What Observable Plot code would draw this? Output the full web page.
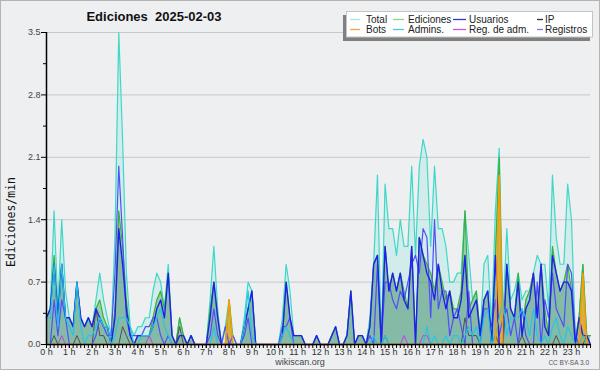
<!DOCTYPE html>
<html><head><meta charset="utf-8">
<script src="https://cdn.jsdelivr.net/npm/d3@7"></script>
<script src="https://cdn.jsdelivr.net/npm/@observablehq/plot@0.6"></script>
<style>
html,body{margin:0;padding:0;background:#eeeff1}
#wrap{position:relative;width:600px;height:370px;background:#eeeff1;overflow:hidden}
#wrap svg{position:absolute;left:0;top:0}
</style></head><body><div id="wrap"></div>
<script>
// 10-minute buckets, 0:00 .. 23:50 (values in edits/min)
const total = [
0.3,0.4,1.5,0.4,1.4,0.6, 0.3,0.2,0.7,0.3,0.2,0.3, 0.2,0.5,0.8,0.5,0.3,0.1, 1.2,3.5,2.3,0.8,0.2,0.1,
0.2,0.2,0.3,0.3,0.6,0.8, 0.7,0.4,0.9,0.1,0.0,0.3, 0.1,0.0,0.1,0.0,0.0,0.0, 0.0,0.5,1.1,0.4,0.0,0.2,
0.5,0.1,0.0,0.0,0.3,0.7, 0.6,0.0,0.0,0.0,0.0,0.0, 0.0,0.0,0.3,0.9,0.6,0.1, 0.1,0.1,0.0,0.0,0.0,0.1,
0.0,0.0,0.0,0.1,0.2,0.0, 0.0,0.1,0.6,0.0,0.1,0.1, 0.0,0.3,0.9,1.9,0.0,1.8, 1.3,1.3,1.0,1.4,1.1,1.1,
2.0,1.0,2.0,2.3,2.1,1.1, 2.0,1.3,1.3,1.1,0.7,0.7, 0.8,0.8,1.5,1.0,0.5,0.6, 0.1,0.9,1.0,0.2,1.5,2.2,
0.3,1.3,0.5,0.6,0.8,0.5, 0.6,0.6,0.8,1.0,0.9,0.9, 0.4,1.9,1.2,0.9,0.9,1.8, 1.4,0.1,0.3,0.9,0.1,0.1];
const ediciones = [
0.3,0.4,1.0,0.3,0.9,0.3, 0.3,0.2,0.7,0.3,0.2,0.3, 0.2,0.4,0.5,0.3,0.2,0.0, 0.4,1.5,1.1,0.5,0.1,0.0,
0.1,0.1,0.1,0.1,0.3,0.5, 0.6,0.4,0.8,0.1,0.0,0.3, 0.1,0.0,0.1,0.0,0.0,0.0, 0.0,0.4,0.7,0.3,0.0,0.0,
0.5,0.0,0.0,0.0,0.2,0.4, 0.6,0.0,0.0,0.0,0.0,0.0, 0.0,0.0,0.1,0.7,0.3,0.1, 0.1,0.1,0.0,0.0,0.0,0.1,
0.0,0.0,0.0,0.1,0.2,0.0, 0.0,0.1,0.6,0.0,0.1,0.1, 0.0,0.2,0.9,1.0,0.0,1.1, 0.6,0.8,0.6,0.8,0.6,0.4,
1.1,0.0,1.2,1.0,0.9,0.8, 0.6,0.9,0.7,0.5,0.6,0.4, 0.4,0.6,1.5,0.4,0.5,0.6, 0.1,0.5,0.6,0.0,1.0,2.1,
0.0,0.9,0.4,0.3,0.8,0.1, 0.5,0.6,0.8,0.3,0.9,0.4, 0.1,1.1,0.8,0.6,0.7,0.9, 0.6,0.0,0.3,0.9,0.1,0.1];
const usuarios = [
0.3,0.4,0.9,0.3,0.9,0.3, 0.3,0.2,0.7,0.3,0.2,0.3, 0.2,0.4,0.3,0.2,0.2,0.0, 0.3,1.3,0.9,0.4,0.1,0.0,
0.1,0.1,0.1,0.1,0.2,0.4, 0.5,0.3,0.8,0.1,0.0,0.1, 0.1,0.0,0.1,0.0,0.0,0.0, 0.0,0.3,0.7,0.3,0.0,0.0,
0.0,0.0,0.0,0.0,0.2,0.4, 0.6,0.0,0.0,0.0,0.0,0.0, 0.0,0.0,0.1,0.7,0.3,0.1, 0.1,0.1,0.0,0.0,0.0,0.1,
0.0,0.0,0.0,0.1,0.2,0.0, 0.0,0.1,0.6,0.0,0.1,0.1, 0.0,0.2,0.9,1.0,0.0,1.1, 0.6,0.8,0.6,0.8,0.5,0.4,
1.1,0.0,1.2,1.0,0.8,0.7, 0.5,0.9,0.6,0.4,0.6,0.3, 0.3,0.5,1.0,0.3,0.4,0.5, 0.1,0.5,0.6,0.0,1.0,0.0,
0.0,0.9,0.4,0.3,0.7,0.1, 0.4,0.5,0.8,0.3,0.9,0.2, 0.1,1.0,0.8,0.6,0.7,0.7, 0.6,0.0,0.3,0.1,0.1,0.0];
const registros = [
0.0,0.0,0.5,0.1,0.5,0.3, 0.0,0.0,0.0,0.0,0.0,0.0, 0.0,0.1,0.3,0.2,0.1,0.1, 0.8,2.0,1.2,0.3,0.1,0.1,
0.1,0.1,0.2,0.2,0.3,0.3, 0.1,0.0,0.1,0.0,0.0,0.0, 0.0,0.0,0.0,0.0,0.0,0.0, 0.0,0.1,0.4,0.1,0.0,0.2,
0.0,0.1,0.0,0.0,0.1,0.3, 0.0,0.0,0.0,0.0,0.0,0.0, 0.0,0.0,0.2,0.2,0.3,0.0, 0.0,0.0,0.0,0.0,0.0,0.0,
0.0,0.0,0.0,0.0,0.0,0.0, 0.0,0.0,0.0,0.0,0.0,0.0, 0.0,0.1,0.0,0.9,0.0,0.7, 0.7,0.5,0.4,0.6,0.5,0.7,
0.9,1.0,0.8,1.3,1.2,0.3, 1.4,0.4,0.6,0.6,0.1,0.3, 0.4,0.2,0.0,0.6,0.0,0.0, 0.0,0.4,0.4,0.2,0.5,0.1,
0.3,0.4,0.1,0.3,0.0,0.4, 0.1,0.0,0.0,0.7,0.0,0.5, 0.3,0.8,0.4,0.3,0.2,0.9, 0.8,0.1,0.0,0.0,0.0,0.0];
const admins = [
0.3,0.3,0.9,0.2,0.9,0.3, 0.2,0.1,0.7,0.2,0.0,0.1, 0.1,0.2,0.3,0.2,0.2,0.0, 0.1,0.3,0.3,0.3,0.2,0.0,
0.0,0.1,0.1,0.1,0.2,0.3, 0.4,0.2,0.1,0.0,0.0,0.0, 0.0,0.0,0.0,0.0,0.0,0.0, 0.0,0.0,0.2,0.0,0.0,0.0,
0.0,0.0,0.0,0.0,0.2,0.6, 0.1,0.0,0.0,0.0,0.0,0.0, 0.0,0.0,0.1,0.2,0.1,0.0, 0.0,0.0,0.0,0.0,0.0,0.0,
0.0,0.0,0.0,0.0,0.0,0.0, 0.0,0.0,0.0,0.0,0.0,0.0, 0.0,0.0,0.1,0.0,0.0,0.1, 0.0,0.0,0.0,0.0,0.0,0.0,
0.0,0.0,0.0,0.0,0.2,0.0, 0.1,0.0,0.0,0.1,0.0,0.1, 0.1,0.0,0.1,0.2,0.1,0.2, 0.0,0.3,0.4,0.0,0.1,0.3,
0.5,0.1,0.3,0.3,0.3,0.4, 0.3,0.1,0.4,0.1,0.0,0.1, 0.0,0.2,0.3,0.1,0.0,0.2, 0.1,0.0,0.0,0.1,0.0,0.0];
const ip = [
0.0,0.0,0.1,0.0,0.0,0.0, 0.0,0.0,0.1,0.0,0.0,0.0, 0.0,0.4,0.1,0.1,0.0,0.0, 0.0,0.0,0.2,0.1,0.0,0.0,
0.0,0.0,0.0,0.0,0.0,0.0, 0.0,0.0,0.0,0.0,0.0,0.2, 0.0,0.0,0.0,0.0,0.0,0.0, 0.0,0.0,0.0,0.0,0.0,0.0,
0.0,0.0,0.0,0.0,0.0,0.0, 0.0,0.0,0.0,0.0,0.0,0.0, 0.0,0.0,0.0,0.0,0.0,0.0, 0.0,0.0,0.0,0.0,0.0,0.0,
0.0,0.0,0.0,0.0,0.0,0.0, 0.0,0.0,0.0,0.0,0.0,0.0, 0.0,0.0,0.0,0.0,0.0,0.1, 0.0,0.0,0.0,0.0,0.0,0.0,
0.0,0.0,0.0,0.0,0.0,0.0, 0.0,0.0,0.0,0.0,0.0,0.0, 0.0,0.0,0.3,0.1,0.1,0.1, 0.0,0.0,0.0,0.0,0.1,0.0,
0.0,0.0,0.0,0.0,0.0,0.1, 0.0,0.0,0.0,0.0,0.0,0.0, 0.0,0.0,0.1,0.0,0.0,0.0, 0.0,0.0,0.0,0.0,0.1,0.0];
const bots = [
0,0,0,0,0,0, 0,0,0,0,0,0, 0,0,0,0,0,0, 0,0,0,0,0,0,
0,0,0,0,0,0, 0,0,0,0,0,0, 0,0,0,0,0,0, 0,0,0,0,0,0,
0.5,0,0,0,0,0, 0,0,0,0,0,0, 0,0,0,0,0,0, 0,0,0,0,0,0,
0,0,0,0,0,0, 0,0,0,0,0,0, 0,0,0,0,0,0, 0,0,0,0,0,0,
0,0,0,0,0,0, 0,0,0,0,0,0, 0,0,0,0,0,0, 0,0,0,0,0,1.9,
0,0,0,0,0,0, 0,0,0,0,0,0, 0,0,0,0,0,0, 0,0,0,0.8,0,0];
const regAdm = [
0,0,0,0,0.1,0, 0,0,0,0,0,0, 0,0,0,0,0,0, 0,0,0,0,0,0,
0,0,0,0.1,0,0, 0,0,0,0,0,0, 0,0,0,0,0,0, 0,0,0,0,0,0,
0,0,0,0,0,0, 0,0,0,0,0,0, 0,0,0,0,0,0, 0,0,0,0,0,0,
0,0,0,0,0,0, 0,0,0,0,0,0, 0,0,0,0,0,0, 0,0,0,0,0.1,0,
0,0,0,0.1,0.1,0, 0,0,0,0,0,0, 0,0,0,0,0,0, 0,0,0,0,0,0,
0,0,0,0,0,0, 0,0,0,0,0,0, 0,0,0,0,0,0, 0,0,0,0,0,0];

const hourLabels = ["0 h","1 h","2 h","3 h","4 h","5 h","6 h","7 h","8 h","9 h","10 h","11 h",
  "12 h","13 h","14 h","15 h","16 h","17 h","18 h","19 h","20 h","21 h","22 h","23 h"];
const yMajor = [0, 0.7, 1.4, 2.1, 2.8, 3.5];
const yMinor = [0.35, 1.05, 1.75, 2.45, 3.15];
const legendLabels = ["Total","Ediciones","Usuarios","IP","Bots","Admins.","Reg. de adm.","Registros"];
const legendColors = ["#a8e8df","#8cd68c","#3434dc","#333333","#ffa040","#40cfe2","#d050e0","#7878ee"];
const title = "Ediciones\u00a0 2025-02-03";
const yLabel = "Ediciones/min";

const rows = total.map((t, i) => ({i, total: t, ed: ediciones[i], usr: usuarios[i], reg: registros[i],
  adm: admins[i], ip: ip[i], bot: bots[i], radm: regAdm[i]}));
const hourTicks = hourLabels.map((_, h) => h * 6);
const minorX = rows.map(d => d.i);

const chart = Plot.plot({
  width: 600, height: 370,
  marginLeft: 46, marginRight: 10, marginTop: 32, marginBottom: 26,
  style: {background: "transparent", fontFamily: "Liberation Sans", fontSize: "9px"},
  x: {domain: [0, 143], axis: null},
  y: {domain: [0, 3.5], axis: null},
  marks: [
    Plot.gridY(yMajor, {stroke: "#c8c8c8", strokeOpacity: 1}),
    Plot.areaY(rows, {x: "i", y: "total", fill: "#40e0c8", fillOpacity: 0.17}),
    Plot.areaY(rows, {x: "i", y: "ed", fill: "#4cb050", fillOpacity: 0.44}),
    Plot.areaY(rows, {x: "i", y: "usr", fill: "#2030b0", fillOpacity: 0.14}),
    Plot.areaY(rows, {x: "i", y: "bot", fill: "#ff9a00", fillOpacity: 0.6}),
    Plot.lineY(rows, {x: "i", y: "total", stroke: "#3fd8c8", strokeWidth: 1.2}),
    Plot.lineY(rows, {x: "i", y: "ed", stroke: "#3cb03c", strokeWidth: 1.2}),
    Plot.lineY(rows, {x: "i", y: "ip", stroke: "#505050", strokeWidth: 1}),
    Plot.lineY(rows, {x: "i", y: "radm", stroke: "#c040e0", strokeWidth: 1}),
    Plot.lineY(rows, {x: "i", y: "reg", stroke: "#5050f8", strokeWidth: 1.2}),
    Plot.lineY(rows, {x: "i", y: "usr", stroke: "#2020ec", strokeWidth: 1.4}),
    Plot.lineY(rows, {x: "i", y: "adm", stroke: "#20c6e6", strokeWidth: 1.1}),
    Plot.lineY(rows, {x: "i", y: "bot", stroke: "#ff9a00", strokeWidth: 1.4}),
    Plot.ruleX([0], {stroke: "#000", strokeWidth: 1.5}),
    Plot.ruleY([0], {stroke: "#000", strokeWidth: 1.5}),
    Plot.axisY(yMajor, {tickSize: 5, tickPadding: 1, tickFormat: d3.format(".1f"), label: null, stroke: "#000", fill: "#444", fontSize: 9}),
    Plot.axisY(yMinor, {tickSize: 3, tickFormat: () => "", label: null, stroke: "#000"}),
    Plot.axisX(minorX, {tickSize: 4, tickFormat: () => "", label: null, stroke: "#000"}),
    Plot.axisX(hourTicks, {tickSize: 4, tickPadding: 0, tickFormat: (d, k) => hourLabels[k], label: null, stroke: "#000", fill: "#333", fontSize: 9})
  ]
});
document.getElementById("wrap").appendChild(chart);

// overlay: border, title, axis label, legend, credits
const ov = d3.select("#wrap").append("svg").attr("width", 600).attr("height", 370)
  .style("font-family", "Liberation Sans");
ov.append("rect").attr("x", 0.5).attr("y", 0.5).attr("width", 599).attr("height", 369)
  .attr("fill", "none").attr("stroke", "#b4b4b4");
ov.append("text").attr("x", 154).attr("y", 21).attr("text-anchor", "middle")
  .attr("font-weight", "bold").attr("font-size", 13).attr("fill", "#111").text(title);
ov.append("text").attr("transform", "translate(15,222) rotate(-90)").attr("text-anchor", "middle")
  .attr("font-family", "DejaVu Sans Mono").attr("font-size", 11.5).attr("fill", "#111").text(yLabel);

const lg = ov.append("g");
lg.append("rect").attr("x", 343).attr("y", 15).attr("width", 247).attr("height", 26).attr("fill", "#808080");
lg.append("rect").attr("x", 346.5).attr("y", 11.5).attr("width", 246).attr("height", 25.5)
  .attr("fill", "#fff").attr("stroke", "#c4c4c4");
const colLine = [[350, 360], [393, 404], [453, 466], [537, 543]];
const colText = [366, 408, 469, 545];
const rowY = [19.5, 29.5];
legendLabels.forEach((lab, k) => {
  const c = k % 4, r = Math.floor(k / 4);
  lg.append("line").attr("x1", colLine[c][0]).attr("x2", colLine[c][1])
    .attr("y1", rowY[r]).attr("y2", rowY[r]).attr("stroke", legendColors[k]).attr("stroke-width", 1.3);
  lg.append("text").attr("x", colText[c]).attr("y", rowY[r] + 3.5).attr("font-size", 10)
    .attr("fill", "#222").text(lab);
});
ov.append("text").attr("x", 300).attr("y", 365).attr("text-anchor", "middle")
  .attr("font-size", 9).attr("fill", "#444").text("wikiscan.org");
ov.append("text").attr("x", 589).attr("y", 365).attr("text-anchor", "end")
  .attr("font-size", 6.5).attr("fill", "#555").text("CC BY-SA 3.0");
</script></body></html>
